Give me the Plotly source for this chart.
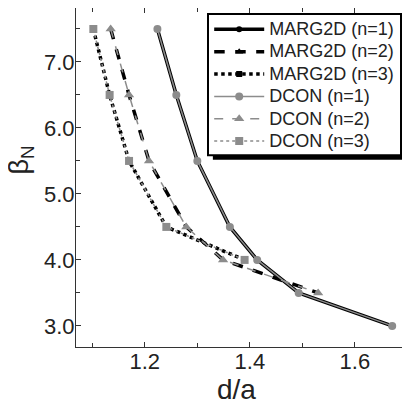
import plotly.graph_objects as go

# data
marg_n1_x = [1.224, 1.260, 1.300, 1.362, 1.414, 1.493, 1.671]
marg_n1_y = [7.5, 6.5, 5.5, 4.5, 4.0, 3.5, 3.0]
marg_n2_x = [1.135, 1.170, 1.208, 1.279, 1.349, 1.530]
marg_n2_y = [7.5, 6.5, 5.5, 4.5, 4.0, 3.5]
marg_n3_x = [1.102, 1.133, 1.170, 1.241, 1.390]
marg_n3_y = [7.5, 6.5, 5.5, 4.5, 4.0]

dcon_n1_x = [1.224, 1.260, 1.300, 1.362, 1.414, 1.493, 1.671]
dcon_n1_y = [7.5, 6.5, 5.5, 4.5, 4.0, 3.5, 3.0]
dcon_n2_x = [1.135, 1.170, 1.208, 1.279, 1.349, 1.530]
dcon_n2_y = [7.5, 6.5, 5.5, 4.5, 4.0, 3.5]
dcon_n3_x = [1.102, 1.133, 1.170, 1.241, 1.390]
dcon_n3_y = [7.5, 6.5, 5.5, 4.5, 4.0]

x_ticks = [1.2, 1.4, 1.6]
y_ticks = [3.0, 4.0, 5.0, 6.0, 7.0]

GRAY = "#8c8c8c"
FONT = "Liberation Sans, Arial"
fig = go.Figure()

def add(name, x, y, color, width, dash, symbol, msize):
    fig.add_trace(go.Scatter(x=x, y=y, name=f'<span style="font-size:18px">{name}</span>',
                             mode="lines+markers",
                             line=dict(color=color, width=width, dash=dash),
                             marker=dict(color=color, symbol=symbol, size=msize)))

add("MARG2D (n=1)", marg_n1_x, marg_n1_y, "black", 3.5, "solid", "circle", 6)
add("MARG2D (n=2)", marg_n2_x, marg_n2_y, "black", 3.5, "dash", "triangle-up", 7)
add("MARG2D (n=3)", marg_n3_x, marg_n3_y, "black", 3.5, "dot", "square", 6)
add("DCON (n=1)", dcon_n1_x, dcon_n1_y, GRAY, 1.5, "solid", "circle", 8)
add("DCON (n=2)", dcon_n2_x, dcon_n2_y, GRAY, 1.5, "dash", "triangle-up", 9)
add("DCON (n=3)", dcon_n3_x, dcon_n3_y, GRAY, 1.5, "dot", "square", 8)

axis_common = dict(showline=True, linecolor="#333", linewidth=1, mirror="allticks",
                   ticks="inside", ticklen=5, tickcolor="#333", showgrid=False,
                   zeroline=False, automargin=False,
                   tickfont=dict(family=FONT, size=22, color="#222"))

fig.update_xaxes(range=[1.069, 1.703], tickvals=x_ticks, ticktext=[f"{v:.1f}" for v in x_ticks],
                 minor=dict(dtick=0.1, tick0=1.0, ticks="inside", ticklen=4, tickcolor="#333"),
                 ticklabelstandoff=-5, **axis_common)
fig.update_yaxes(range=[2.68, 7.818], tickvals=y_ticks, ticktext=[f"{v:.1f}" for v in y_ticks],
                 minor=dict(dtick=0.5, tick0=0, ticks="inside", ticklen=4, tickcolor="#333"),
                 ticklabelstandoff=-4, **axis_common)

# axis titles
fig.add_annotation(text="d/a", xref="paper", yref="paper", x=0.483, y=-0.073,
                   xanchor="center", yanchor="top", showarrow=False,
                   font=dict(family=FONT, size=28, color="#222"))
fig.add_annotation(text="β<sub>N</sub>", xref="paper", yref="paper", x=-0.166, y=0.552,
                   xanchor="center", yanchor="middle", showarrow=False, textangle=-90,
                   font=dict(family=FONT, size=27, color="#222"))

# legend box with shadow
fig.add_shape(type="rect", xref="paper", yref="paper", x0=0.411, x1=0.991, y0=0.552, y1=0.968,
              fillcolor="black", line=dict(width=0), layer="above")
fig.add_shape(type="rect", xref="paper", yref="paper", x0=0.3964, x1=0.976, y0=0.566, y1=0.982,
              fillcolor="white", line=dict(color="black", width=2), layer="above")

fig.update_layout(
    width=402, height=392,
    margin=dict(l=68, r=1, t=0, b=53),
    plot_bgcolor="white", paper_bgcolor="white",
    showlegend=True,
    legend=dict(x=0.40, y=0.985, xanchor="left", yanchor="top", bgcolor="rgba(0,0,0,0)",
                borderwidth=0, itemwidth=50, tracegroupgap=0,
                font=dict(family=FONT, size=14.9, color="#222")),
)

fig.write_html("out.html")
